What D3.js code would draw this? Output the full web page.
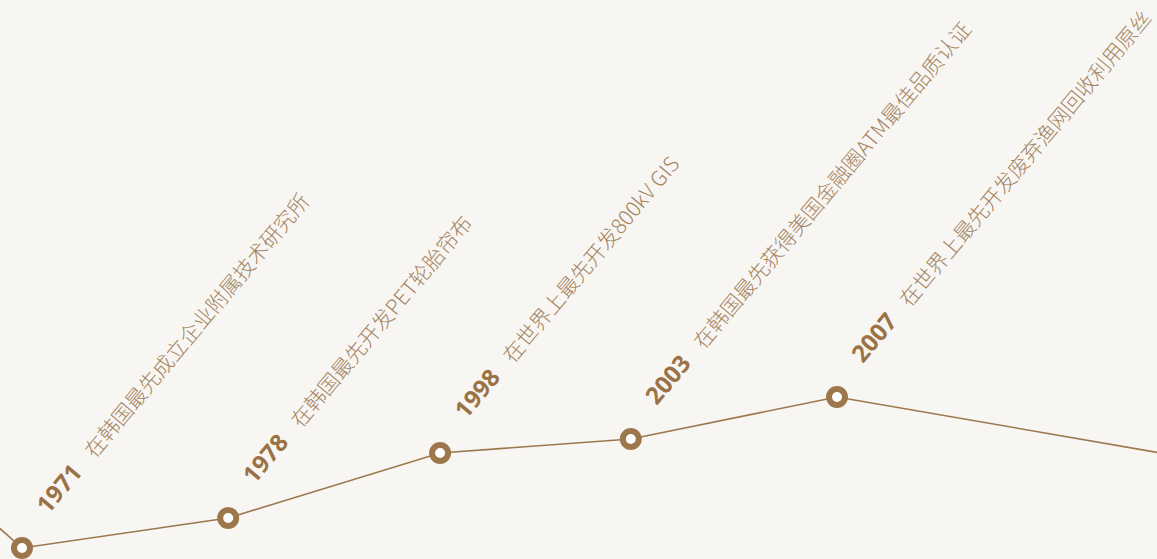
<!DOCTYPE html>
<html>
<head>
<meta charset="utf-8">
<script src="https://cdn.jsdelivr.net/npm/d3@7"></script>
<style>
  html, body { margin: 0; padding: 0; background: #f8f6f3; overflow: hidden; }
  svg { display: block; }
</style>
</head>
<body>
<svg id="chart"></svg>
<script>
// timeline milestones (prev / next are the neighbours running off screen)
const years = ["", "1971", "1978", "1998", "2003", "2007", ""];
const events = [
  "",
  "在韩国最先成立企业附属技术研究所",
  "在韩国最先开发PET轮胎帘布",
  "在世界上最先开发800kV GIS",
  "在韩国最先获得美国金融圈ATM最佳品质认证",
  "在世界上最先开发废弃渔网回收利用原丝",
  ""
];
const positions = [-25, 0, 25.3, 51.3, 74.7, 100, 145];
const levels = [119, 0, 19.9, 62.9, 72.2, 100, 58];

const width = 1157, height = 559;
const lineColor = "#9c774c";

const svg = d3.select("#chart").attr("width", width).attr("height", height);

const data = years.map((y, i) => ({
  year: y,
  text: events[i],
  pos: positions[i],
  level: levels[i]
}));

const x = d3.scaleLinear().domain([0, 100]).range([22, 837]);
const y = d3.scaleLinear().domain([0, 100]).range([548, 397]);

const line = d3.line()
  .x(d => x(d.pos))
  .y(d => y(d.level));

svg.append("path")
  .datum(data)
  .attr("d", line)
  .attr("fill", "none")
  .attr("stroke", lineColor)
  .attr("stroke-width", 1.6);

const milestones = data.filter(d => d.year !== "");

svg.selectAll("circle.dot")
  .data(milestones)
  .enter()
  .append("circle")
  .attr("class", "dot")
  .attr("cx", d => x(d.pos))
  .attr("cy", d => y(d.level))
  .attr("r", 8)
  .attr("fill", "#fff")
  .attr("stroke", lineColor)
  .attr("stroke-width", 6);

const labels = svg.selectAll("text.label")
  .data(milestones)
  .enter()
  .append("text")
  .attr("class", "label")
  .attr("transform", d => `translate(${x(d.pos) + 26},${y(d.level) - 33}) rotate(-50)`);

labels.append("tspan")
  .text(d => d.year)
  .attr("fill", "#9a7245")
  .style("font-family", "'Open Sans', 'Noto Sans', sans-serif")
  .style("font-weight", "700")
  .style("font-size", "24px");

labels.append("tspan")
  .attr("dx", 18)
  .text(d => d.text)
  .attr("fill", "#a5845f")
  .style("font-family", "'Noto Sans CJK SC', sans-serif")
  .style("font-weight", "300")
  .style("font-size", "21px");
</script>
</body>
</html>
